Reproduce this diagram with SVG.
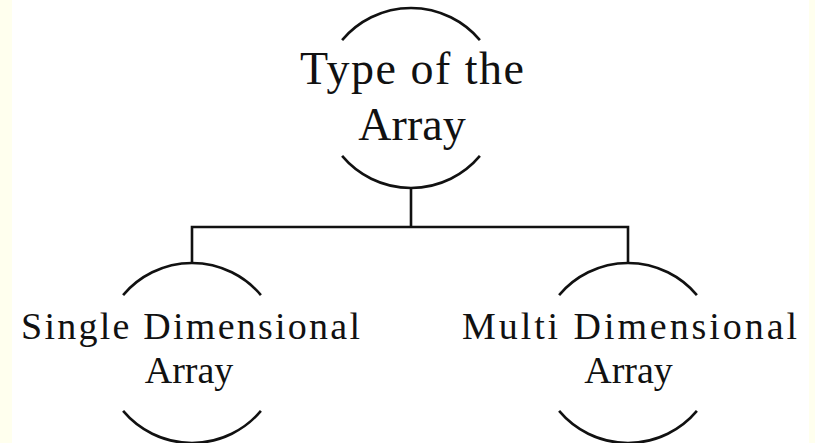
<svg xmlns="http://www.w3.org/2000/svg" width="815" height="443" viewBox="0 0 815 443">
  <style>
    .arc { fill: none; stroke: #111; stroke-width: 2.6; }
    .conn { fill: none; stroke: #111; stroke-width: 2.6; }
    .lbl { font-family: "Liberation Serif", "DejaVu Serif", serif; fill: #111; text-anchor: middle; }
    .big { font-size: 46px; }
    .small { font-size: 38px; }
  </style>
  <rect x="0" y="0" width="815" height="443" fill="#FFFFEE"/>
  <rect x="12" y="0" width="797" height="443" fill="#FFFFFF"/>

  <g id="connectors">
    <path class="conn" d="M411 188 V227"/>
    <path class="conn" d="M192 263 V227 H628 V263"/>
  </g>

  <g id="node-type">
    <path class="arc" d="M342.1 40.1 A90 90 0 0 1 479.9 40.1"/>
    <path class="arc" d="M342.1 155.9 A90 90 0 0 0 479.9 155.9"/>
    <text class="lbl big" x="412" y="84" textLength="224" lengthAdjust="spacing">Type of the</text>
    <text class="lbl big" x="412" y="140">Array</text>
  </g>

  <g id="node-single">
    <path class="arc" d="M123.1 295.1 A90 90 0 0 1 260.9 295.1"/>
    <path class="arc" d="M123.1 410.9 A90 90 0 0 0 260.9 410.9"/>
    <text class="lbl small" x="190.5" y="339" textLength="339" lengthAdjust="spacing">Single  Dimensional</text>
    <text class="lbl small" x="189" y="383">Array</text>
  </g>

  <g id="node-multi">
    <path class="arc" d="M559.1 295.1 A90 90 0 0 1 696.9 295.1"/>
    <path class="arc" d="M559.1 410.9 A90 90 0 0 0 696.9 410.9"/>
    <text class="lbl small" x="629.5" y="339" textLength="335" lengthAdjust="spacing">Multi Dimensional</text>
    <text class="lbl small" x="628.5" y="383">Array</text>
  </g>
</svg>
